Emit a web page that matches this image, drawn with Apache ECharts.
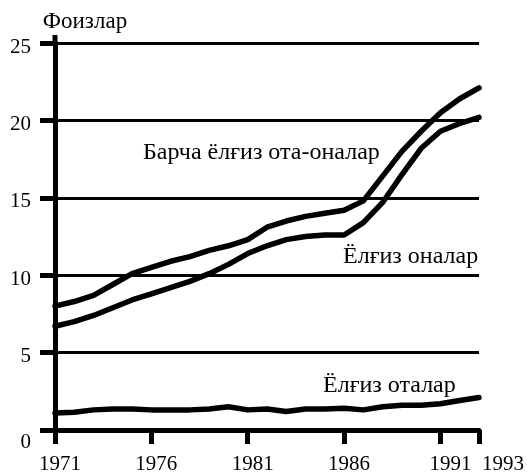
<!DOCTYPE html>
<html><head><meta charset="utf-8">
<script src="https://cdn.jsdelivr.net/npm/echarts@6/dist/echarts.min.js"></script>
<style>html,body{margin:0;padding:0;background:#fff}#c{width:527px;height:476px}</style>
</head><body><div id="c"></div>
<script>
// ---- data ----
const years = [1971,1972,1973,1974,1975,1976,1977,1978,1979,1980,1981,1982,1983,1984,1985,1986,1987,1988,1989,1990,1991,1992,1993];
const allParents  = [8.0,8.3,8.7,9.4,10.1,10.5,10.9,11.2,11.6,11.9,12.3,13.1,13.5,13.8,14.0,14.2,14.8,16.4,18.0,19.3,20.5,21.4,22.1];
const loneMothers = [6.7,7.0,7.4,7.9,8.4,8.8,9.2,9.6,10.1,10.7,11.4,11.9,12.3,12.5,12.6,12.6,13.4,14.7,16.5,18.2,19.3,19.8,20.2];
const loneFathers = [1.1,1.15,1.3,1.35,1.35,1.3,1.3,1.3,1.35,1.5,1.3,1.35,1.2,1.35,1.35,1.4,1.3,1.5,1.6,1.6,1.7,1.9,2.1];
const seriesNames = ['Барча ёлғиз ота-оналар','Ёлғиз оналар','Ёлғиз оталар'];
const xTickYears = [1971,1976,1981,1986,1991,1993];
const yTickValues = [0,5,10,15,20,25];
const yAxisName = 'Фоизлар';

const FONT = "'Liberation Serif','Times New Roman',serif";
const TICK_FS = 21;
const ANN_FS = 24;
const pair = arr => years.map((y,i)=>[y,arr[i]]);

const chart = echarts.init(document.getElementById('c'), null, {renderer:'canvas'});
const lineSeries = (name, arr) => ({
  name, type:'line', data: pair(arr), symbol:'none', smooth:false,
  lineStyle:{color:'#000', width:5.5, cap:'round', join:'round'}, z:5, animation:false
});
chart.setOption({
  backgroundColor:'#fff',
  animation:false,
  grid:{left:55, right:47, top:43, bottom:46, containLabel:false},
  xAxis:{
    type:'value', min:xTickYears[0], max:xTickYears[xTickYears.length-1],
    axisLine:{show:true, onZero:false, lineStyle:{color:'#000', width:5}},
    axisTick:{show:true, customValues:xTickYears, length:14, lineStyle:{color:'#000', width:5}},
    splitLine:{show:false},
    axisLabel:{
      customValues:xTickYears, margin:24, color:'#000', fontFamily:FONT, fontSize:TICK_FS,
      formatter: v => v===1993 ? '{e|'+v+'}' : (v===1991 ? '{m|'+v+'}' : '{n|'+v+'}'),
      rich:{
        n:{fontFamily:FONT, fontSize:TICK_FS, color:'#000', padding:[0,0,0,10]},
        m:{fontFamily:FONT, fontSize:TICK_FS, color:'#000', padding:[0,0,0,20]},
        e:{fontFamily:FONT, fontSize:TICK_FS, color:'#000', padding:[0,0,0,48]}
      }
    }
  },
  yAxis:{
    type:'value', min:yTickValues[0], max:yTickValues[yTickValues.length-1], interval:5,
    name:yAxisName, nameLocation:'end', nameGap:10,
    nameTextStyle:{color:'#000', fontFamily:FONT, fontSize:ANN_FS-1, align:'center', padding:[0,0,0,60]},
    axisLine:{show:true, lineStyle:{color:'#000', width:5}},
    axisTick:{show:true, length:15, lineStyle:{color:'#000', width:5}},
    splitLine:{show:true, lineStyle:{color:'#000', width:3}},
    axisLabel:{
      margin:24, color:'#000', fontFamily:FONT, fontSize:TICK_FS,
      formatter: v => v===0 ? '{z|0}' : '{n|'+v+'}',
      rich:{
        n:{fontFamily:FONT, fontSize:TICK_FS, color:'#000', padding:[8,0,0,0]},
        z:{fontFamily:FONT, fontSize:TICK_FS, color:'#000', padding:[24,0,0,0]}
      }
    }
  },
  series:[
    lineSeries(seriesNames[0], allParents),
    lineSeries(seriesNames[1], loneMothers),
    lineSeries(seriesNames[2], loneFathers)
  ]
});

const axisTopPx = chart.convertToPixel({gridIndex:0}, [xTickYears[0], yTickValues[yTickValues.length-1]]);
chart.setOption({
  graphic:[
    {type:'line', shape:{x1:axisTopPx[0], y1:axisTopPx[1], x2:axisTopPx[0], y2:axisTopPx[1]-8}, style:{stroke:'#000', lineWidth:5}, z:10},
    {type:'text', left:143, top:141, style:{text:seriesNames[0], font:ANN_FS+'px '+FONT, fill:'#000'}},
    {type:'text', left:343, top:245, style:{text:seriesNames[1], font:ANN_FS+'px '+FONT, fill:'#000'}},
    {type:'text', left:323, top:374, style:{text:seriesNames[2], font:ANN_FS+'px '+FONT, fill:'#000'}}
  ]
});
</script>
</body></html>
